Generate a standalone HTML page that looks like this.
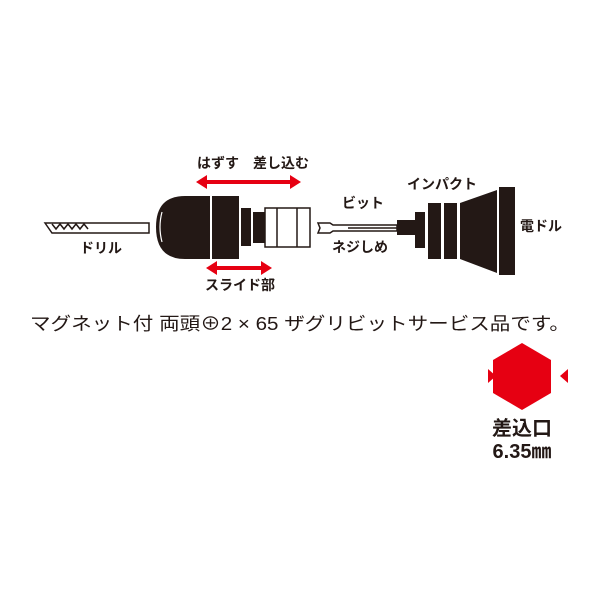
<!DOCTYPE html>
<html><head><meta charset="utf-8"><style>
body{margin:0;background:#fff;}
svg text{font-family:"Liberation Sans","Noto Sans CJK JP",sans-serif;}
</style></head><body>
<svg width="600" height="600" viewBox="0 0 600 600" xmlns="http://www.w3.org/2000/svg">
<!-- drill bit -->
<path d="M45,223 L52,233 L92,233 L149,233 L149,223 Z" fill="#fff" stroke="#231815" stroke-width="1.5"/>
<path d="M52,224 l4,5 4,-5 4,5 4,-5 4,5 4,-5 4,5 4,-5 4,5" fill="none" stroke="#231815" stroke-width="1.5"/>
<text x="80" y="253" font-size="14" font-weight="bold" fill="#231815">ドリル</text>
<!-- chuck -->
<path d="M210,196 L185,196 Q156,196 156,227 Q156,259 185,259 L210,259 Z" fill="#231815"/>
<path d="M162,212 Q158,227 162,242" stroke="#fff" stroke-width="1.2" fill="none"/>
<rect x="212" y="196" width="27" height="63" fill="#231815"/>
<rect x="241" y="208" width="10" height="38" fill="#231815"/>
<rect x="253" y="212" width="12" height="31" fill="#231815"/>
<rect x="265" y="208" width="45" height="39" fill="#fff" stroke="#231815" stroke-width="1.5"/>
<line x1="277" y1="208" x2="277" y2="247" stroke="#231815" stroke-width="1.5"/>
<line x1="297" y1="208" x2="297" y2="247" stroke="#231815" stroke-width="1.5"/>
<!-- arrows -->
<text x="197" y="168" font-size="14" font-weight="bold" fill="#231815">はずす　差し込む</text>
<line x1="205" y1="182" x2="292" y2="182" stroke="#e60012" stroke-width="4"/>
<polygon points="196,182 207,175 207,189" fill="#e60012"/>
<polygon points="301,182 290,175 290,189" fill="#e60012"/>
<line x1="215" y1="268" x2="263" y2="268" stroke="#e60012" stroke-width="4"/>
<polygon points="206,268 217,261 217,275" fill="#e60012"/>
<polygon points="272,268 261,261 261,275" fill="#e60012"/>
<text x="205" y="290" font-size="14" font-weight="bold" fill="#231815">スライド部</text>
<!-- bit -->
<path d="M318,223 L330,223 L333,225 L397,225 L397,231 L333,231 L330,233 L318,233 L320,228 Z" fill="#fff" stroke="#231815" stroke-width="1.5"/>
<line x1="348" y1="228" x2="397" y2="228" stroke="#231815" stroke-width="1.5"/>
<rect x="397" y="220" width="18" height="15" fill="#231815"/>
<rect x="415" y="212" width="10" height="36" fill="#231815"/>
<rect x="428" y="203" width="13" height="56" fill="#231815"/>
<rect x="444" y="203" width="13" height="56" fill="#231815"/>
<polygon points="460,203 497,190 497,273 460,259" fill="#231815"/>
<rect x="499" y="187" width="16" height="88" fill="#231815"/>
<text x="407" y="189" font-size="14" font-weight="bold" fill="#231815">インパクト</text>
<text x="342" y="208" font-size="14" font-weight="bold" fill="#231815">ビット</text>
<text x="332" y="252" font-size="14" font-weight="bold" fill="#231815">ネジしめ</text>
<text x="520" y="231" font-size="14" font-weight="bold" fill="#231815">電ドル</text>
<!-- main caption -->
<text x="30" y="330" font-size="18" fill="#231815" textLength="540" lengthAdjust="spacingAndGlyphs">マグネット付 両頭⊕2 × 65 ザグリビットサービス品です。</text>
<!-- hexagon -->
<polygon points="522,343 551,360 551,393 522,410 493,393 493,360" fill="#e60012"/>
<polygon points="488,369 496,376 488,383" fill="#e60012"/>
<polygon points="568,369 560,376 568,383" fill="#e60012"/>
<text x="522" y="435" font-size="20" font-weight="bold" text-anchor="middle" fill="#231815">差込口</text>
<text x="522" y="458" font-size="20" font-weight="bold" text-anchor="middle" fill="#231815">6.35㎜</text>
</svg>
</body></html>
